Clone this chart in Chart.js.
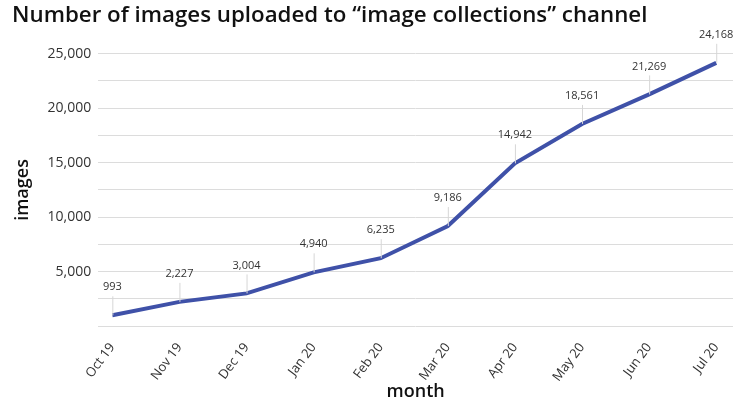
<!DOCTYPE html>
<html>
<head>
<meta charset="utf-8">
<script src="https://cdn.jsdelivr.net/npm/chart.js@4.4.1/dist/chart.umd.min.js"></script>
<style>
  html, body { margin: 0; padding: 0; background: #fff; }
  .cell { width: 735px; height: 401px; }
</style>
</head>
<body>
<div class="cell">
  <canvas id="chart1" width="735" height="401"></canvas>
</div>
<script>
// chart data
const months = ['Oct 19', 'Nov 19', 'Dec 19', 'Jan 20', 'Feb 20', 'Mar 20', 'Apr 20', 'May 20', 'Jun 20', 'Jul 20'];
const images = [993, 2227, 3004, 4940, 6235, 9186, 14942, 18561, 21269, 24168];
const yTicks = [5000, 10000, 15000, 20000, 25000];

const fmt = v => v.toLocaleString('en-US');

// value labels with a thin leader line down to the point
const valueLabels = {
  id: 'valueLabels',
  afterDatasetsDraw(chart) {
    const ctx = chart.ctx;
    const meta = chart.getDatasetMeta(0);
    ctx.save();
    ctx.font = '11px "Open Sans"';
    ctx.fillStyle = '#333';
    ctx.textAlign = 'center';
    ctx.textBaseline = 'middle';
    meta.data.forEach((pt, i) => {
      const ly = pt.y - 28;
      ctx.strokeStyle = '#d6d6d6';
      ctx.lineWidth = 1;
      ctx.beginPath();
      ctx.moveTo(pt.x + 0.5, ly + 9);
      ctx.lineTo(pt.x + 0.5, pt.y);
      ctx.stroke();
      ctx.fillText(fmt(images[i]), pt.x, ly);
    });
    ctx.restore();
  }
};

const ctx = document.getElementById('chart1').getContext('2d');
new Chart(ctx, {
  type: 'line',
  data: {
    datasets: [{
      data: images.map((v, i) => ({ x: i, y: v })),
      borderColor: '#3f51a8',
      borderWidth: 4,
      pointRadius: 0,
      tension: 0,
      clip: false
    }]
  },
  options: {
    responsive: false,
    animation: false,
    layout: { padding: { left: 12, right: 2, top: 0, bottom: -2 } },
    plugins: {
      legend: { display: false },
      tooltip: { enabled: false },
      title: {
        display: true,
        text: 'Number of images uploaded to \u201cimage collections\u201d channel',
        align: 'start',
        color: '#111',
        font: { family: 'Open Sans', size: 22.3, weight: '600' },
        padding: { top: 2, bottom: 25 }
      }
    },
    scales: {
      x: {
        type: 'linear',
        min: -0.21,
        max: 9.25,
        grid: { display: false },
        border: { display: false },
        afterBuildTicks: s => { s.ticks = months.map((m, i) => ({ value: i })); },
        ticks: {
          autoSkip: false,
          minRotation: 53,
          maxRotation: 53,
          padding: 6,
          color: '#333',
          font: { family: 'Open Sans', size: 13 },
          callback: v => months[v]
        },
        title: {
          display: true,
          text: 'month',
          color: '#111',
          font: { family: 'Open Sans', size: 18, weight: '600' },
          padding: { top: -9, bottom: 0 }
        }
      },
      y: {
        min: 0,
        max: 25000,
        border: { display: false },
        grid: { color: '#dcdcdc', lineWidth: 1, drawTicks: false },
        ticks: {
          stepSize: 2500,
          padding: 7,
          color: '#333',
          font: { family: 'Open Sans', size: 14 },
          callback: v => yTicks.includes(v) ? fmt(v) : ''
        },
        title: {
          display: true,
          text: 'images',
          color: '#111',
          font: { family: 'Open Sans', size: 18, weight: '600' },
          padding: { top: 0, bottom: 7 }
        }
      }
    }
  },
  plugins: [valueLabels]
});
</script>
</body>
</html>
